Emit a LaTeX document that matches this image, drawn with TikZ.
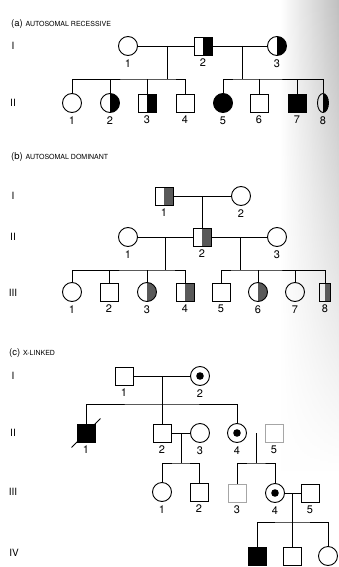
\documentclass[tikz,border=0pt]{standalone}
\usepackage{fontspec}
\setmainfont{TeX Gyre Heros}
\usetikzlibrary{shapes.geometric,fadings}
\definecolor{hatch}{gray}{0.35}
\tikzset{
  sym/.style={draw, line width=0.9pt, inner sep=0pt},
  male/.style={sym, rectangle, minimum size=18pt},
  fem/.style={sym, circle, minimum size=19pt},
  narrowfem/.style={sym, ellipse, minimum width=11pt, minimum height=19pt},
  narrowmale/.style={sym, rectangle, minimum width=11pt, minimum height=18pt},
  halfblk/.style={path picture={\fill[black] (path picture bounding box.north) rectangle (path picture bounding box.south east);}},
  halfgry/.style={path picture={\fill[hatch] (path picture bounding box.north) rectangle (path picture bounding box.south east);}},
  full/.style={fill=black},
  carrier/.style={path picture={\fill[black] (path picture bounding box.center) circle (3.8pt);}},
  faint/.style={draw=gray!70},
  conn/.style={line width=0.9pt},
  lbl/.style={font=\fontsize{11}{11}\selectfont, inner sep=0pt, label distance=3.5pt},
  gen/.style={font=\fontsize{10}{10}\selectfont, inner sep=0pt},
  ttl/.style={anchor=west, inner sep=0pt}
}
\newcommand{\ttlbig}[1]{{\fontsize{9.5}{9.5}\selectfont #1}}
\newcommand{\ttlsml}[1]{{\fontsize{7}{7}\selectfont #1}}
\begin{document}
\begin{tikzpicture}[x=1pt,y=-1pt]
\useasboundingbox (0,0) rectangle (339,567);
\fill[white] (0,0) rectangle (339,567);
\shade[left color=white, right color=gray!50, path fading=south] (280,0) rectangle (339,470);

% ---------------- (a) ----------------
\node[ttl] (ta) at (11,24) {\ttlbig{(a)} \ttlsml{AUTOSOMAL RECESSIVE}};
\node[gen] (ga1) at (13,46) {I};
\node[gen] (ga2) at (13,103) {II};

\node[fem] (a11) at (128,46) [label={[lbl]below:1}] {};
\node[male,halfblk] (a12) at (203,46) [label={[lbl]below:2}] {};
\node[fem,halfblk] (a13) at (277,46) [label={[lbl]below:3}] {};
\coordinate (am1) at (167,46);
\coordinate (am2) at (242,46);
\coordinate (as1) at (167,79);
\coordinate (as2) at (242,79);

\node[fem] (a21) at (72,103) [label={[lbl]below:1}] {};
\node[fem,halfblk] (a22) at (110,103) [label={[lbl]below:2}] {};
\node[male,halfblk] (a23) at (147,103) [label={[lbl]below:3}] {};
\node[male] (a24) at (185,103) [label={[lbl]below:4}] {};
\node[fem,full] (a25) at (223,103) [label={[lbl]below:5}] {};
\node[male] (a26) at (259,103) [label={[lbl]below:6}] {};
\node[male,full] (a27) at (297,103) [label={[lbl]below:7}] {};
\node[narrowfem,halfblk] (a28) at (323,103) [label={[lbl]below:8}] {};

\draw[conn] (a11) -- (a12) -- (a13);
\draw[conn] (am1) -- (as1);
\draw[conn] (am2) -- (as2);
\draw[conn] (a21) |- (as1) -| (a24);
\draw[conn] (a22) -- (a22 |- as1);
\draw[conn] (a23) -- (a23 |- as1);
\draw[conn] (a25) |- (as2) -| (a28);
\draw[conn] (a26) -- (a26 |- as2);
\draw[conn] (a27) -- (a27 |- as2);

% ---------------- (b) ----------------
\node[ttl] (tb) at (11,157) {\ttlbig{(b)} \ttlsml{AUTOSOMAL DOMINANT}};
\node[gen] (gb1) at (13,196) {I};
\node[gen] (gb2) at (13,237) {II};
\node[gen] (gb3) at (13,293) {III};

\node[male,halfgry] (b11) at (164,196) [label={[lbl]below:1}] {};
\node[fem] (b12) at (241,196) [label={[lbl]below:2}] {};
\coordinate (bm1) at (202,196);

\node[fem] (b21) at (128,237) [label={[lbl]below:1}] {};
\node[male,halfgry] (b22) at (202,237) [label={[lbl]below:2}] {};
\node[fem] (b23) at (277,237) [label={[lbl]below:3}] {};
\coordinate (bm2) at (165,237);
\coordinate (bm3) at (240,237);
\coordinate (bs1) at (165,270);
\coordinate (bs2) at (240,270);

\node[fem] (b31) at (72,292) [label={[lbl]below:1}] {};
\node[male] (b32) at (109,292) [label={[lbl]below:2}] {};
\node[fem,halfgry] (b33) at (147,292) [label={[lbl]below:3}] {};
\node[male,halfgry] (b34) at (185,292) [label={[lbl]below:4}] {};
\node[male] (b35) at (221,292) [label={[lbl]below:5}] {};
\node[fem,halfgry] (b36) at (258,292) [label={[lbl]below:6}] {};
\node[fem] (b37) at (295,292) [label={[lbl]below:7}] {};
\node[narrowmale,halfgry] (b38) at (325,292) [label={[lbl]below:8}] {};

\draw[conn] (b11) -- (b12);
\draw[conn] (bm1) -- (b22);
\draw[conn] (b21) -- (b22) -- (b23);
\draw[conn] (bm2) -- (bs1);
\draw[conn] (bm3) -- (bs2);
\draw[conn] (b31) |- (bs1) -| (b34);
\draw[conn] (b32) -- (b32 |- bs1);
\draw[conn] (b33) -- (b33 |- bs1);
\draw[conn] (b35) |- (bs2) -| (b38);
\draw[conn] (b36) -- (b36 |- bs2);
\draw[conn] (b37) -- (b37 |- bs2);

% ---------------- (c) ----------------
\node[ttl] (tc) at (9,353) {\ttlbig{(c)} \ttlsml{X-LINKED}};
\node[gen] (gc1) at (13,376) {I};
\node[gen] (gc2) at (13,433) {II};
\node[gen] (gc3) at (13,492) {III};
\node[gen] (gc4) at (14,553) {IV};

\node[male] (c11) at (124,376) [label={[lbl]below:1}] {};
\node[fem,carrier] (c12) at (200,376) [label={[lbl]below:2}] {};
\coordinate (cm1) at (162,376);
\coordinate (cs1) at (162,404);

\node[male,full] (c21) at (86,433) [label={[lbl]below:1}] {};
\node[male] (c22) at (162,433) [label={[lbl]below:2}] {};
\node[fem] (c23) at (200,433) [label={[lbl]below:3}] {};
\node[fem,carrier] (c24) at (237,433) [label={[lbl]below:4}] {};
\node[male,faint] (c25) at (274,433) [label={[lbl]below:5}] {};
\coordinate (cm2) at (181,433);
\coordinate (cs2) at (181,463);
\coordinate (cm3) at (256,433);
\coordinate (cs3) at (256,463);

\node[fem] (c31) at (162,492) [label={[lbl]below:1}] {};
\node[male] (c32) at (199,492) [label={[lbl]below:2}] {};
\node[male,faint] (c33) at (237,493) [label={[lbl]below:3}] {};
\node[fem,carrier] (c34) at (275,493) [label={[lbl]below:4}] {};
\node[male] (c35) at (310,493) [label={[lbl]below:5}] {};
\coordinate (cm4) at (292,493);
\coordinate (cs4) at (292,522);

\node[male,full] (c41) at (257,556) {};
\node[male] (c42) at (292,556) {};
\node[fem] (c43) at (328,556) {};

\draw[conn] (c11) -- (c12);
\draw[conn] (cm1) -- (c22);
\draw[conn] (c21) |- (cs1) -| (c24);
\draw[conn] ([shift={(-5,5)}]c21.south west) -- ([shift={(5,-5)}]c21.north east);
\draw[conn] (c22) -- (c23);
\draw[conn] (cm2) -- (cs2);
\draw[conn] (c31) |- (cs2) -| (c32);
\draw[conn] (cm3) -- (cs3);
\draw[conn] (c33) |- (cs3) -| (c34);
\draw[conn] (c34) -- (c35);
\draw[conn] (cm4) -- (c42);
\draw[conn] (c41) |- (cs4) -| (c43);
\end{tikzpicture}
\end{document}
